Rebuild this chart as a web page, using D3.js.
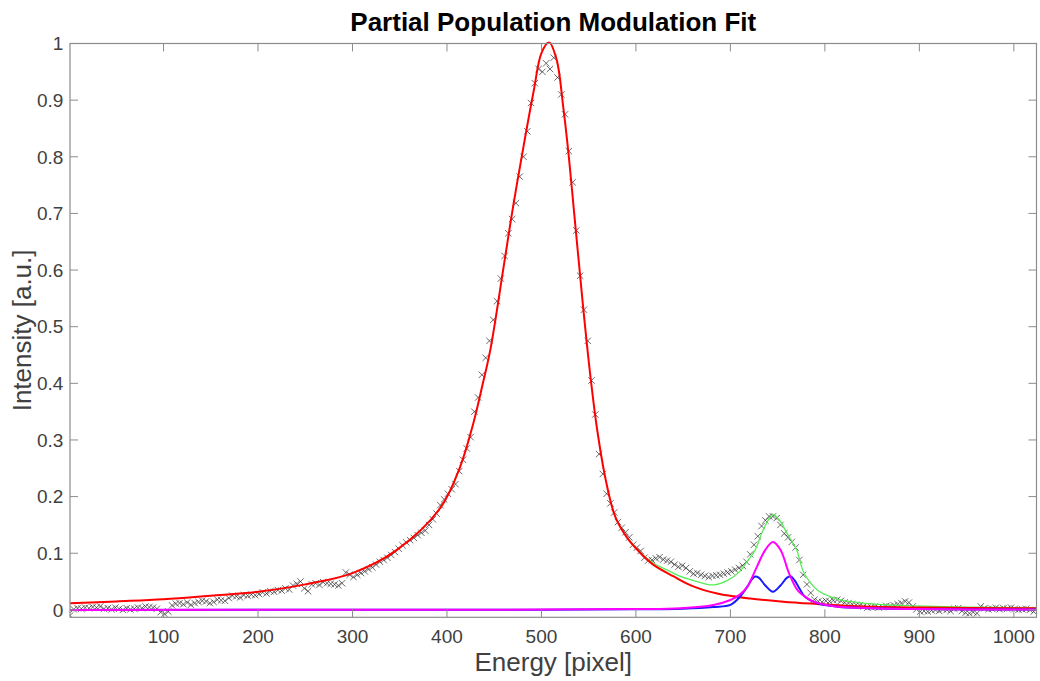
<!DOCTYPE html>
<html>
<head>
<meta charset="utf-8">
<script src="https://cdn.jsdelivr.net/npm/d3@7/dist/d3.min.js"></script>
<style>
html, body { margin: 0; padding: 0; background: #fff; }
svg { display: block; }
</style>
</head>
<body>
<svg id="chart" width="1040" height="681"></svg>
<script>
// ---- Data ----
const titleText = "Partial Population Modulation Fit";
const xLabelText = "Energy [pixel]";
const yLabelText = "Intensity [a.u.]";
const xTicks = [100, 200, 300, 400, 500, 600, 700, 800, 900, 1000];
const yTicks = [0, 0.1, 0.2, 0.3, 0.4, 0.5, 0.6, 0.7, 0.8, 0.9, 1];

// measured spectrum, pixel 1,5,9,... (step 4)
const dataStartPixel = 1;
const dataPixelStep = 4;
const measured = [
  -0.010, 0.001, 0.003, 0.002, 0.004, 0.003, 0.005, 0.004, 0.006, 0.002, 0.003, 0.001, 0.004, 0.002, 0.000, 0.003, 0.001, 0.002, 0.004, 0.003, 0.006, 0.005, 0.004, 0.002, -0.004,
  -0.007, -0.003, 0.008, 0.011, 0.012, 0.010, 0.013, 0.009, 0.012, 0.014, 0.016, 0.015, 0.012, 0.014, 0.018, 0.017, 0.016, 0.021, 0.025, 0.024, 0.022, 0.026, 0.025, 0.027, 0.026,
  0.028, 0.031, 0.029, 0.033, 0.032, 0.035, 0.034, 0.038, 0.036, 0.043, 0.046, 0.050, 0.038, 0.033, 0.045, 0.047, 0.044, 0.049, 0.047, 0.046, 0.045, 0.043, 0.047, 0.066, 0.062,
  0.058, 0.062, 0.065, 0.068, 0.072, 0.075, 0.080, 0.085, 0.088, 0.092, 0.097, 0.102, 0.108, 0.114, 0.119, 0.123, 0.127, 0.132, 0.136, 0.140, 0.150, 0.160, 0.170, 0.185, 0.195,
  0.205, 0.213, 0.222, 0.245, 0.265, 0.285, 0.305, 0.350, 0.375, 0.415, 0.445, 0.475, 0.512, 0.545, 0.585, 0.625, 0.665, 0.690, 0.718, 0.765, 0.800, 0.845, 0.895, 0.930, 0.955,
  0.950, 0.965, 0.955, 0.975, 0.940, 0.910, 0.875, 0.810, 0.755, 0.670, 0.590, 0.530, 0.475, 0.405, 0.345, 0.275, 0.240, 0.205, 0.188, 0.172, 0.155, 0.145, 0.137, 0.128, 0.115,
  0.110, 0.104, 0.092, 0.087, 0.088, 0.091, 0.093, 0.089, 0.087, 0.085, 0.080, 0.076, 0.078, 0.074, 0.068, 0.064, 0.065, 0.062, 0.060, 0.058, 0.060, 0.061, 0.062, 0.064, 0.066,
  0.068, 0.071, 0.074, 0.078, 0.085, 0.098, 0.115, 0.130, 0.148, 0.158, 0.165, 0.165, 0.162, 0.150, 0.135, 0.128, 0.120, 0.110, 0.088, 0.062, 0.045, 0.030, 0.018, 0.015, 0.014,
  0.016, 0.015, 0.017, 0.018, 0.016, 0.013, 0.012, 0.010, 0.009, 0.008, 0.006, 0.004, 0.005, 0.006, 0.004, 0.005, 0.007, 0.006, 0.008, 0.010, 0.012, 0.015, 0.013, 0.006, 0.001,
  -0.003, -0.002, -0.003, -0.001, 0.000, -0.002, 0.001, 0.000, -0.002, 0.002, 0.003, -0.002, -0.005, -0.006, -0.004, -0.006, 0.006, 0.003, 0.001, 0.002, 0.004, 0.001, 0.003, 0.002, 0.004,
  0.002, 0.000, 0.001, 0.002, 0.000, -0.003
];

// main fit (red)
const mainFitX = [1, 50, 100, 150, 200, 250, 300, 347, 393, 414, 428, 438, 446, 460, 470, 481, 492, 500, 508, 516, 523, 529, 534, 539, 545, 552, 559, 568, 578, 590, 605, 619, 640, 660, 686, 721, 756, 792, 827, 900, 1024];
const mainFitY = [0.0117, 0.015, 0.0187, 0.025, 0.032, 0.045, 0.065, 0.106, 0.18, 0.253, 0.33, 0.40, 0.46, 0.606, 0.712, 0.818, 0.918, 0.983, 1.002, 0.972, 0.889, 0.80, 0.712, 0.624, 0.52, 0.41, 0.318, 0.23, 0.165, 0.129, 0.10, 0.079, 0.059, 0.042, 0.029, 0.020, 0.0145, 0.0104, 0.0069, 0.004, 0.003];

// total fit (green)
const totalFitX = [590, 605, 619, 633, 647, 665, 682, 697, 710, 718, 726, 735, 745, 753, 760, 770, 778, 792, 805, 816, 840, 880, 950, 1024];
const totalFitY = [0.129, 0.101, 0.082, 0.0705, 0.059, 0.05, 0.044, 0.052, 0.068, 0.086, 0.105, 0.142, 0.168, 0.156, 0.135, 0.106, 0.065, 0.035, 0.024, 0.0175, 0.012, 0.008, 0.005, 0.0035];

// side peak (magenta)
const sidePeakX = [1, 500, 600, 647, 682, 700, 710, 718, 728, 737, 745, 753, 762, 771, 780, 788, 800, 813, 850, 900, 1024];
const sidePeakY = [0, 0.0005, 0.0015, 0.003, 0.0087, 0.0175, 0.027, 0.041, 0.076, 0.106, 0.12, 0.106, 0.065, 0.035, 0.022, 0.0145, 0.009, 0.0057, 0.003, 0.0015, 0.0005];

// split peaks (blue)
const splitPeakX = [1, 500, 600, 650, 682, 700, 710, 718, 722, 726, 730, 737, 745, 753, 760, 764, 768, 772, 779, 792, 813, 850, 900, 1024];
const splitPeakY = [0, 0.0003, 0.001, 0.002, 0.005, 0.0087, 0.023, 0.041, 0.052, 0.059, 0.057, 0.043, 0.032, 0.043, 0.057, 0.059, 0.052, 0.041, 0.023, 0.0117, 0.0057, 0.003, 0.0015, 0.0005];

// ---- Layout ----
const svg = d3.select("#chart");
const L = 70, R = 1036.5, T = 43.5, B = 617.3;
const x = d3.scaleLinear().domain([1, 1024]).range([L, R]);
const y = d3.scaleLinear().domain([-0.0131, 1]).range([B, T]);

const font = "'Liberation Sans', Arial, Helvetica, sans-serif";
const axisColor = "#8c8c8c";
const textColor = "#404040";

svg.append("defs").append("clipPath").attr("id", "clip")
  .append("rect").attr("x", L).attr("y", T - 2).attr("width", R - L).attr("height", B - T + 2);

const plot = svg.append("g").attr("clip-path", "url(#clip)");

// data markers
const pts = measured.map((v, i) => [dataStartPixel + i * dataPixelStep, v]);
const s = 3.2;
plot.append("g").selectAll("path").data(pts).enter().append("path")
  .attr("d", d => {
    const cx = x(d[0]), cy = y(d[1]);
    return `M${cx - s},${cy - s}L${cx + s},${cy + s}M${cx - s},${cy + s}L${cx + s},${cy - s}`;
  })
  .attr("stroke", "#1a1a1a")
  .attr("stroke-opacity", 0.65)
  .attr("stroke-width", 1)
  .attr("fill", "none");

function curve(xs, ys, color, w) {
  const line = d3.line().x(d => x(d[0])).y(d => y(d[1])).curve(d3.curveCatmullRom.alpha(0.5));
  plot.append("path").datum(xs.map((v, i) => [v, ys[i]]))
    .attr("d", line).attr("fill", "none").attr("stroke", color).attr("stroke-width", w)
    .attr("stroke-linejoin", "round");
}
curve(totalFitX, totalFitY, "#55ee55", 1.3);
curve(mainFitX, mainFitY, "#ff0000", 2);
curve(splitPeakX, splitPeakY, "#1a1aff", 2);
curve(sidePeakX, sidePeakY, "#ff00ff", 2);

// ---- Axes (box with inward ticks) ----
const ax = svg.append("g");
ax.append("rect").attr("x", L).attr("y", T).attr("width", R - L).attr("height", B - T)
  .attr("fill", "none").attr("stroke", axisColor).attr("stroke-width", 1.2);

const tl = 8;
xTicks.forEach(t => {
  const px = x(t);
  ax.append("line").attr("x1", px).attr("x2", px).attr("y1", B).attr("y2", B - tl).attr("stroke", axisColor).attr("stroke-width", 1);
  ax.append("line").attr("x1", px).attr("x2", px).attr("y1", T).attr("y2", T + tl).attr("stroke", axisColor).attr("stroke-width", 1);
  ax.append("text").attr("x", px).attr("y", B + 26).attr("text-anchor", "middle")
    .attr("font-family", font).attr("font-size", 19).attr("fill", textColor).text(t);
});
yTicks.forEach(t => {
  const py = y(t);
  ax.append("line").attr("x1", L).attr("x2", L + tl).attr("y1", py).attr("y2", py).attr("stroke", axisColor).attr("stroke-width", 1);
  ax.append("line").attr("x1", R).attr("x2", R - tl).attr("y1", py).attr("y2", py).attr("stroke", axisColor).attr("stroke-width", 1);
  ax.append("text").attr("x", L - 6.7).attr("y", py + 6.8).attr("text-anchor", "end")
    .attr("font-family", font).attr("font-size", 19).attr("fill", textColor).text(d3.format("~g")(t));
});

// labels
svg.append("text").attr("x", (L + R) / 2).attr("y", 31).attr("text-anchor", "middle")
  .attr("font-family", font).attr("font-weight", "bold").attr("font-size", 26).attr("fill", "#000").text(titleText);
svg.append("text").attr("x", (L + R) / 2).attr("y", 671).attr("text-anchor", "middle")
  .attr("font-family", font).attr("font-size", 26).attr("fill", textColor).text(xLabelText);
svg.append("text").attr("transform", `translate(31,${(T + B) / 2}) rotate(-90)`).attr("text-anchor", "middle")
  .attr("font-family", font).attr("font-size", 26).attr("fill", textColor).text(yLabelText);
</script>
</body>
</html>
